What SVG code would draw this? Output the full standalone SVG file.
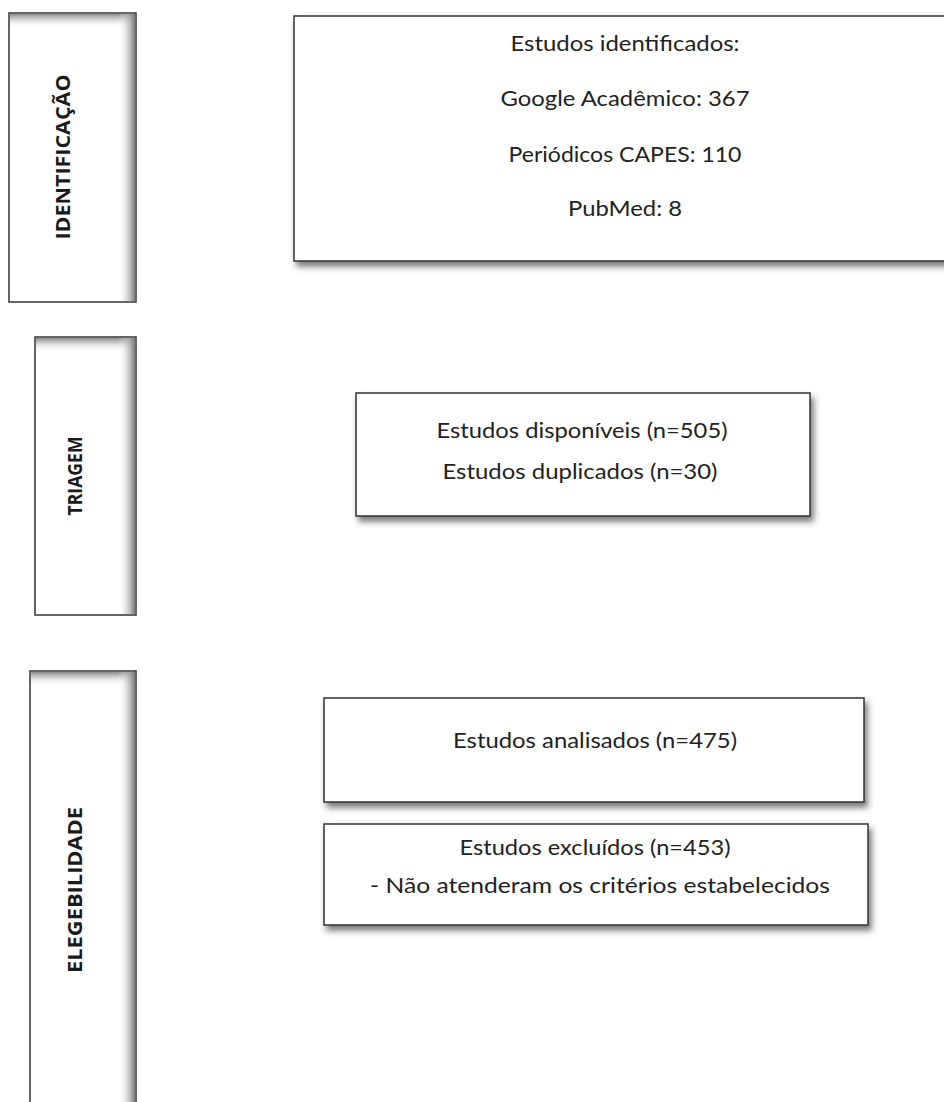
<svg xmlns="http://www.w3.org/2000/svg" width="944" height="1102" viewBox="0 0 944 1102">
  <defs>
    <filter id="shadow" x="-10%" y="-10%" width="130%" height="140%">
      <feDropShadow dx="3" dy="5" stdDeviation="3" flood-color="#333" flood-opacity="0.65"/>
    </filter>
    <linearGradient id="gTop" x1="0" y1="0" x2="0" y2="1">
      <stop offset="0" stop-color="#8a8a8a" stop-opacity="1"/>
      <stop offset="1" stop-color="#ffffff" stop-opacity="0"/>
    </linearGradient>
    <linearGradient id="gRight" x1="0" y1="0" x2="1" y2="0">
      <stop offset="0" stop-color="#ffffff" stop-opacity="0"/>
      <stop offset="1" stop-color="#7a7a7a" stop-opacity="1"/>
    </linearGradient>
  </defs>
  <style>
    .phase { fill: #ffffff; stroke: #333333; stroke-width: 1.5; }
    .node { fill: #ffffff; stroke: #333333; stroke-width: 1.5; filter: url(#shadow); }
    .lbl { font-family: "Open Sans", "Liberation Sans", sans-serif; font-weight: bold; font-size: 19px; fill: #1a1a1a; text-anchor: middle; }
    .txt { font-family: Lato, "Liberation Sans", sans-serif; font-size: 22px; fill: #222222; text-anchor: middle; }
  </style>
  <rect width="944" height="1102" fill="#ffffff"/>

  <g id="phase-identificacao">
    <rect class="phase" x="9" y="13" width="127" height="289"/>
    <rect x="10" y="14" width="125" height="14" fill="url(#gTop)"/>
    <rect x="118" y="14" width="17" height="287" fill="url(#gRight)"/>
    <text class="lbl" transform="translate(70,157) rotate(-90)" textLength="165" lengthAdjust="spacingAndGlyphs">IDENTIFICAÇÃO</text>
  </g>

  <g id="phase-triagem">
    <rect class="phase" x="35" y="337" width="101" height="278"/>
    <rect x="36" y="338" width="99" height="14" fill="url(#gTop)"/>
    <rect x="118" y="338" width="17" height="276" fill="url(#gRight)"/>
    <text class="lbl" transform="translate(82,476) rotate(-90)" textLength="79" lengthAdjust="spacingAndGlyphs">TRIAGEM</text>
  </g>

  <g id="phase-elegibilidade">
    <rect class="phase" x="30" y="671" width="106" height="450"/>
    <rect x="31" y="672" width="104" height="14" fill="url(#gTop)"/>
    <rect x="118" y="672" width="17" height="440" fill="url(#gRight)"/>
    <text class="lbl" transform="translate(82,890) rotate(-90)" textLength="166" lengthAdjust="spacingAndGlyphs">ELEGEBILIDADE</text>
  </g>

  <g id="node-identificados">
    <rect class="node" x="294" y="16" width="680" height="245"/>
    <text class="txt" x="625" y="51" textLength="229" lengthAdjust="spacingAndGlyphs">Estudos identificados:</text>
    <text class="txt" x="625" y="106" textLength="249" lengthAdjust="spacingAndGlyphs">Google Acadêmico: 367</text>
    <text class="txt" x="625" y="162" textLength="233" lengthAdjust="spacingAndGlyphs">Periódicos CAPES: 110</text>
    <text class="txt" x="625" y="216" textLength="114" lengthAdjust="spacingAndGlyphs">PubMed: 8</text>
  </g>

  <g id="node-triagem">
    <rect class="node" x="356" y="393" width="454" height="123"/>
    <text class="txt" x="582" y="438" textLength="291" lengthAdjust="spacingAndGlyphs">Estudos disponíveis (n=505)</text>
    <text class="txt" x="580" y="479" textLength="275" lengthAdjust="spacingAndGlyphs">Estudos duplicados (n=30)</text>
  </g>

  <g id="node-analisados">
    <rect class="node" x="324" y="698" width="540" height="104"/>
    <text class="txt" x="595" y="748" textLength="284" lengthAdjust="spacingAndGlyphs">Estudos analisados (n=475)</text>
  </g>

  <g id="node-excluidos">
    <rect class="node" x="324" y="824" width="544" height="101"/>
    <text class="txt" x="595" y="855" textLength="271" lengthAdjust="spacingAndGlyphs">Estudos excluídos (n=453)</text>
    <text class="txt" x="600" y="893" textLength="460" lengthAdjust="spacingAndGlyphs">- Não atenderam os critérios estabelecidos</text>
  </g>

  <g id="connectors"></g>
</svg>
